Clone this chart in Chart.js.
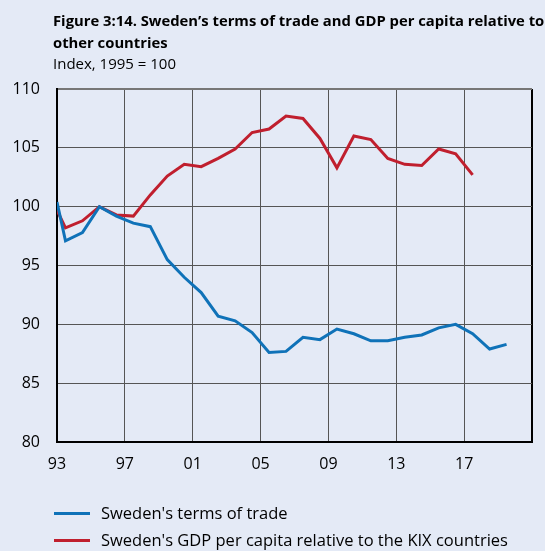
<!DOCTYPE html>
<html><head><meta charset="utf-8">
<script src="https://cdn.jsdelivr.net/npm/chart.js@4/dist/chart.umd.min.js"></script>
<style>
html,body{margin:0;padding:0;background:#e4eaf6;}
#wrap{position:relative;width:545px;height:551px;background:#e4eaf6;font-family:"Open Sans",sans-serif;color:#000;}
canvas{position:absolute;left:0;top:0;}
.t{position:absolute;left:53px;white-space:nowrap;}
#t1{top:10px;font-weight:bold;font-size:14.8px;}
#t2{top:32px;font-weight:bold;font-size:14.8px;}
#t3{top:53px;font-size:15px;}
.lg{position:absolute;left:54px;height:20px;white-space:nowrap;font-size:16.5px;}
.lg span.s{position:absolute;left:0;top:11px;width:36px;height:3px;}
.lg span.l{position:absolute;left:47px;top:0;}
</style></head>
<body><div id="wrap">
<canvas id="c" width="545" height="551"></canvas>
<div class="t" id="t1">Figure 3:14. Sweden’s terms of trade and GDP per capita relative to</div>
<div class="t" id="t2">other countries</div>
<div class="t" id="t3">Index, 1995 = 100</div>
<div class="lg" style="top:501px"><span class="s" style="background:#0f72b8"></span><span class="l">Sweden's terms of trade</span></div>
<div class="lg" style="top:528px"><span class="s" style="background:#c01f2e"></span><span class="l">Sweden's GDP per capita relative to the KIX countries</span></div>
</div>
<script>
// Years of the annual observations (plotted at mid-year); first point sits on the 1993 axis edge
const startYear = 1993;
const years = [1993,1994,1995,1996,1997,1998,1999,2000,2001,2002,2003,2004,2005,2006,2007,2008,2009,2010,2011,2012,2013,2014,2015,2016,2017,2018,2019];
const termsStart = 100.4;
const termsOfTrade = [97.1,97.8,100.0,99.2,98.6,98.3,95.5,94.0,92.7,90.7,90.3,89.3,87.6,87.7,88.9,88.7,89.6,89.2,88.6,88.6,88.9,89.1,89.7,90.0,89.2,87.9,88.3];
const gdpStart = 99.7;
const gdpRelative = [98.2,98.8,100.0,99.3,99.2,101.0,102.6,103.6,103.4,104.1,104.9,106.3,106.6,107.7,107.5,105.8,103.3,106.0,105.7,104.1,103.6,103.5,104.9,104.5,102.7];
const xTicks = [1993,1997,2001,2005,2009,2013,2017,2021];
const yTicks = [80,85,90,95,100,105,110];

function series(start, vals){
  const pts=[{x:startYear,y:start}];
  vals.forEach((v,i)=>pts.push({x:years[i]+0.5,y:v}));
  return pts;
}

new Chart(document.getElementById('c'),{
  type:'line',
  data:{datasets:[
    {label:"Sweden's terms of trade",data:series(termsStart,termsOfTrade),borderColor:'#0f72b8',borderWidth:3,pointRadius:0,tension:0,fill:false},
    {label:"Sweden's GDP per capita relative to the KIX countries",data:series(gdpStart,gdpRelative),borderColor:'#c01f2e',borderWidth:3,pointRadius:0,tension:0,fill:false}
  ]},
  options:{
    responsive:false,animation:false,
    layout:{padding:{top:89,right:13,left:0,bottom:0}},
    plugins:{legend:{display:false},tooltip:{enabled:false},title:{display:false}},
    scales:{
      x:{type:'linear',min:1993,max:2021,
        afterBuildTicks:s=>{s.ticks=xTicks.map(v=>({value:v}));},
        afterFit:s=>{s.height=109;},
        ticks:{padding:13,autoSkip:false,maxRotation:0,color:'#000',font:{family:'Open Sans',size:16},
          callback:v=>v===2021?'':String(v).slice(2)},
        grid:{drawTicks:false,color:c=>c.tick&&c.tick.value===2021?'#000':'#555',lineWidth:c=>c.tick&&c.tick.value===2021?2:1},
        border:{display:true,color:'#000',width:2}
      },
      y:{min:80,max:110,
        afterBuildTicks:s=>{s.ticks=yTicks.map(v=>({value:v}));},
        afterFit:s=>{s.width=57;},
        ticks:{padding:17,color:'#000',font:{family:'Open Sans',size:16}},
        grid:{drawTicks:false,color:c=>c.tick&&c.tick.value===110?'#777':'#555',lineWidth:c=>c.tick&&c.tick.value===110?2:1},
        border:{display:true,color:'#000',width:2}
      }
    }
  }
});
</script>
</body></html>
